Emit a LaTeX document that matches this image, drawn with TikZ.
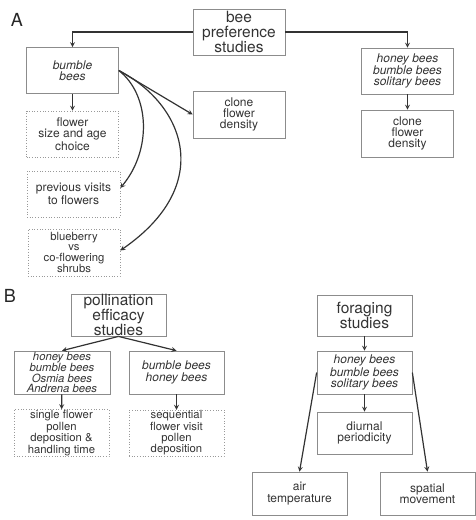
\documentclass[tikz,border=0pt]{standalone}
\usepackage{fontspec}
\setmainfont{TeX Gyre Heros}
\usepackage{tikz}
\usetikzlibrary{positioning,shapes,arrows}

\begin{document}
\begin{tikzpicture}[
                x=1pt, y=-1pt,
                box/.style={draw=black!45, line width=0.7pt, align=center, inner sep=0.5pt,
                    text=black!80, minimum width=92pt, minimum height=46pt,
                    font=\fontsize{12}{11.2}\selectfont},
                obs/.style={box, draw=black!40, dotted},
                four/.style={font=\fontsize{11.3}{10.6}\selectfont},
                headbox/.style={box, font=\fontsize{15.5}{14.8}\selectfont},
                link/.style={->, > = stealth, line width=1.2pt, draw=black!80},
                panel/.style={font=\fontsize{18}{18}\selectfont, text=black!85}
            ]
            \useasboundingbox (0,0) rectangle (475,520);

            % panel A
            \node[panel] (labelA) at (17,20) {A};
            \node[headbox] (Praeferenz) at (239,32) {bee\\preference\\studies};
            \node[box] (Hummeln) at (72.5,70.5) {\itshape bumble\\\itshape bees};
            \node[obs] (Groesse) at (72.5,134) {flower\\size and age\\choice};
            \node[box, minimum height=47pt] (Klon_L) at (239,114.5) {clone\\flower\\density};
            \node[obs, minimum width=93pt] (Besuche) at (73.5,194) {previous visits\\to flowers};
            \node[obs, four, minimum height=47pt] (Straeucher) at (74,252.5) {blueberry\\vs\\co-flowering\\shrubs};
            \node[box] (Bienen_A) at (407.5,71) {\itshape honey bees\\\itshape bumble bees\\\itshape solitary bees};
            \node[box, minimum height=47pt] (Klon_R) at (407.5,133.5) {clone\\flower\\density};

            \draw[link] (Praeferenz.west) -| (Hummeln.north);
            \draw[link] (Praeferenz.east) -| (Bienen_A.north);
            \draw[link] (Hummeln) -- (Groesse);
            \draw[link] (Bienen_A) -- (Klon_R);
            \draw[link] (Hummeln.east) -- (Klon_L.west);
            \draw[link] (Hummeln.east) .. controls (150,95) and (152,150) .. ([yshift=6pt]Besuche.east);
            \draw[link] (Hummeln.east) .. controls (185,105) and (215,185) .. ([yshift=2pt]Straeucher.east);

            % panel B
            \node[panel] (labelB) at (10,296) {B};
            \node[headbox, minimum width=95pt, minimum height=40pt] (Bestaeubung) at (118.5,315) {pollination\\efficacy\\studies};
            \node[box, four, minimum width=96pt, minimum height=43pt] (Arten_4) at (62,372.5) {\itshape honey bees\\\itshape bumble bees\\\itshape Osmia bees\\\itshape Andrena bees};
            \node[box, minimum width=95pt, minimum height=43pt] (Arten_2) at (176.5,372.5) {\itshape bumble bees\\\itshape honey bees};
            \node[obs, four, minimum width=95pt, minimum height=42pt] (Einzel) at (61.5,433) {single flower\\pollen\\deposition \&\\handling time};
            \node[obs, four, minimum width=95pt, minimum height=42pt] (Folge) at (176.5,433) {sequential\\flower visit\\pollen\\deposition};

            \node[headbox, minimum width=95pt, minimum height=41pt] (Sammeln) at (364.5,315.5) {foraging\\studies};
            \node[box, minimum width=95pt, minimum height=43pt] (Bienen_B) at (364.5,372.5) {\itshape honey bees\\\itshape bumble bees\\\itshape solitary bees};
            \node[box, minimum width=95pt, minimum height=42pt] (Tageszeit) at (364.5,433) {diurnal\\periodicity};
            \node[box, minimum width=95pt, minimum height=43pt] (Temperatur) at (299.5,493.5) {air\\temperature};
            \node[box, minimum width=95pt, minimum height=43pt] (Bewegung) at (427.5,493.5) {spatial\\movement};

            \draw[link] (Bestaeubung.south) -- (Arten_4.north);
            \draw[link] (Bestaeubung.south) -- (Arten_2.north);
            \draw[link] (Arten_4) -- (Einzel);
            \draw[link] (Arten_2) -- (Folge);

            \draw[link] (Sammeln) -- (Bienen_B);
            \draw[link] (Bienen_B) -- (Tageszeit);
            \draw[link] (Bienen_B.west) -- (Temperatur.north);
            \draw[link] (Bienen_B.east) -- (Bewegung.north);
        \end{tikzpicture}
\end{document}
